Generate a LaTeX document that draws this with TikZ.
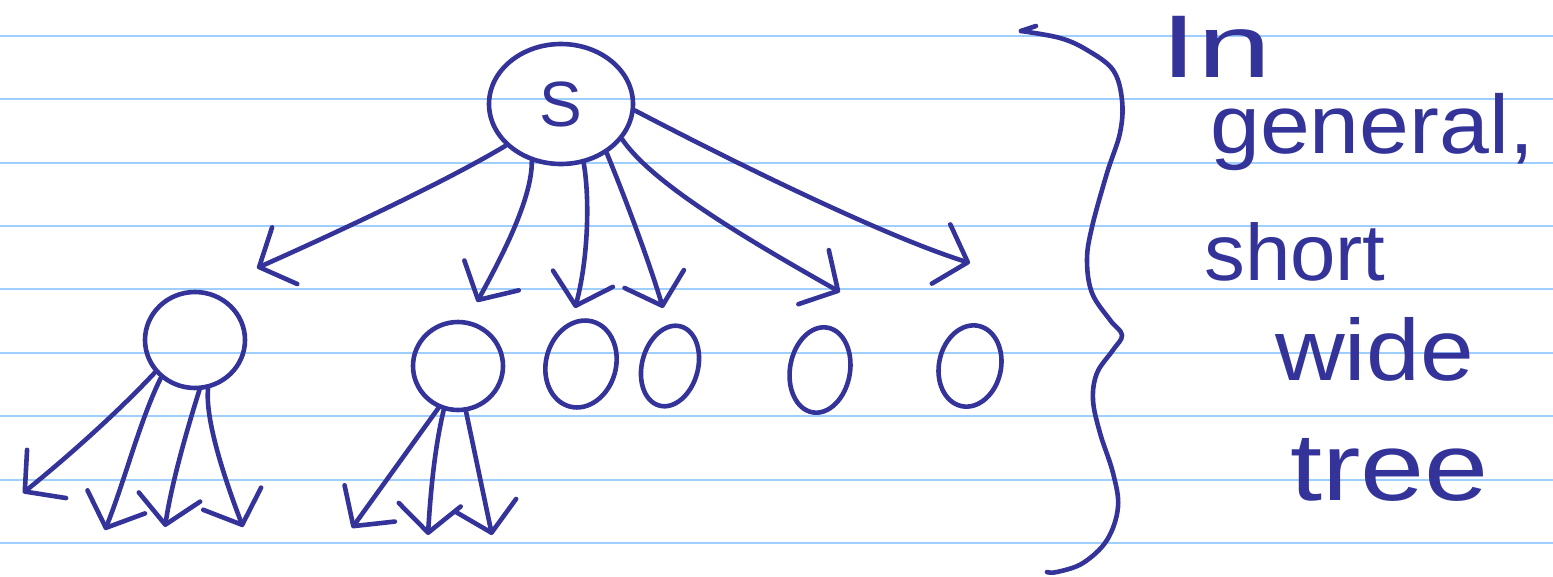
\documentclass[tikz,border=0pt]{standalone}
\usepackage{fontspec}
\setmainfont{Liberation Sans}
\usepackage{graphicx}
\usetikzlibrary{shapes.geometric,arrows.meta}
\definecolor{ink}{HTML}{333399}
\definecolor{ruling}{HTML}{9FCFFF}
\begin{document}
\begin{tikzpicture}[x=1pt,y=-1pt,
  pen/.style={draw=ink,line width=4.6pt,line cap=round,line join=round},
  blob/.style={ellipse,pen,inner sep=0pt},
  arr/.style={pen,-{Straight Barb[length=28pt,width=62pt,round]}},
  hw/.style={text=ink,anchor=base west,inner sep=0pt},
  paper/.style={draw=ruling,line width=2pt}]
\fill[white] (0,0) rectangle (1553,576);
\useasboundingbox (0,0) rectangle (1553,576);
\foreach \k in {0,...,8}{\draw[paper] (0,{35.7+63.43*\k}) -- (1553,{35.7+63.43*\k});}

% root and children
\node[blob,minimum width=144pt,minimum height=120pt,text=ink,font=\fontsize{64}{64}\selectfont] (s) at (561,104) {S};
\node[blob,minimum width=100pt,minimum height=96pt] (c1) at (195,340) {};
\node[blob,minimum width=90pt,minimum height=88pt] (c2) at (458,366) {};
\node[blob,minimum width=70pt,minimum height=88pt,rotate=-15] (c3) at (581,364) {};
\node[blob,minimum width=56pt,minimum height=82pt,rotate=-15] (c4) at (670,366) {};
\node[blob,minimum width=60pt,minimum height=86pt,rotate=-10] (c5) at (820,370) {};
\node[blob,minimum width=62pt,minimum height=82pt,rotate=-12] (c6) at (970,366) {};

% arrow tips
\coordinate (k1) at (257,268);
\coordinate (k2) at (477,302);
\coordinate (k3) at (575,308);
\coordinate (k4) at (663,308);
\coordinate (k5) at (840,292);
\coordinate (k6) at (970,263);
\coordinate (g1) at (23,493);
\coordinate (g2) at (105,530);
\coordinate (g3) at (165,527);
\coordinate (g4) at (243,527);
\coordinate (g5) at (352,528);
\coordinate (g6) at (428,535);
\coordinate (g7) at (492,535);

% edges from the root
\draw[arr] (s.217) .. controls (440,185) and (320,240) .. (k1);
\draw[arr] (s.243) .. controls (532,200) and (500,260) .. (k2);
\draw[arr] (s.291) .. controls (590,200) and (588,260) .. (k3);
\draw[arr] (s.313) .. controls (630,210) and (650,265) .. (k4);
\draw[arr] (s.330) .. controls (650,180) and (730,230) .. (k5);
\draw[arr] (s.355) .. controls (720,155) and (880,235) .. (k6);

% edges from the first two children
\draw[arr] (c1.219) .. controls (120,410) and (70,455) .. (g1);
\draw[arr] (c1.228) .. controls (140,420) and (125,480) .. (g2);
\draw[arr] (c1.275) .. controls (190,420) and (172,480) .. (g3);
\draw[arr] (c1.285) .. controls (205,420) and (225,480) .. (g4);
\draw[arr] (c2.245) -- (g5);
\draw[arr] (c2.252) .. controls (434,450) and (430,500) .. (g6);
\draw[arr] (c2.280) -- (g7);

% brace
\draw[pen] (1036,26) -- (1021,31);
\draw[pen] plot[smooth,tension=0.6] coordinates {(1021,31) (1060,38) (1087,50) (1113,70) (1122,100) (1120,133) (1107,173) (1092,227) (1087,260) (1092,293) (1110,320) (1122,335) (1113,350) (1097,373) (1093,400) (1100,433) (1113,473) (1118,507) (1107,540) (1083,563) (1057,572) (1047,572)};

% handwritten note
\node[hw,font=\fontsize{89}{90}\selectfont] (w1) at (1160,77) {\scalebox{1.5}[1]{In}};
\node[hw,font=\fontsize{83}{90}\selectfont] (w2) at (1210,153) {\scalebox{1.08}[1]{general,}};
\node[hw,font=\fontsize{80}{90}\selectfont] (w3) at (1204,280) {\scalebox{1.02}[1]{short}};
\node[hw,font=\fontsize{87}{90}\selectfont] (w4) at (1275,380) {\scalebox{1.11}[1]{wide}};
\node[hw,font=\fontsize{96}{100}\selectfont] (w5) at (1290,500) {\scalebox{1.2}[1]{tree}};
\end{tikzpicture}
\end{document}
